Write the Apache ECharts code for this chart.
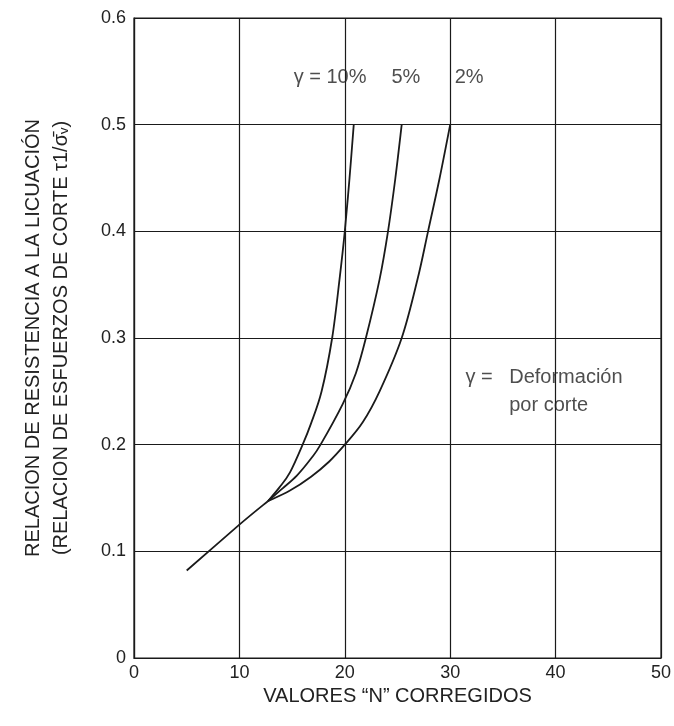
<!DOCTYPE html>
<html>
<head>
<meta charset="utf-8">
<script src="https://cdn.jsdelivr.net/npm/echarts@6/dist/echarts.min.js"></script>
<style>html,body{margin:0;padding:0;background:#fff}#c{width:674px;height:726px}</style>
</head>
<body>
<div id="c"></div>
<script>
var xTicks = [0, 10, 20, 30, 40, 50];
var yTicks = [0, 0.1, 0.2, 0.3, 0.4, 0.5, 0.6];
var baseLine = [[5, 0.082], [10, 0.125], [12.7, 0.147]];
var gamma10 = [[12.7, 0.147], [13.8, 0.16], [14.8, 0.174], [16.0, 0.2], [16.8, 0.22], [17.8, 0.25], [18.8, 0.3], [19.5, 0.355], [20.0, 0.4], [20.45, 0.45], [20.85, 0.5]];
var gamma5 = [[12.7, 0.147], [14.1, 0.159], [15.45, 0.171], [16.8, 0.187], [17.7, 0.2], [19.8, 0.238], [21.05, 0.267], [22, 0.3], [23.3, 0.355], [24.1, 0.4], [24.8, 0.45], [25.4, 0.5]];
var gamma2 = [[12.7, 0.147], [14.8, 0.157], [16.8, 0.17], [18.5, 0.184], [20, 0.2], [21.7, 0.221], [23.3, 0.25], [25.4, 0.3], [26.9, 0.355], [27.9, 0.4], [29.0, 0.45], [30, 0.5]];
var annotations = [
  {text: 'γ = 10%', x: 18.6, y: 0.544, align: 'center'},
  {text: '5%', x: 25.8, y: 0.544, align: 'center'},
  {text: '2%', x: 31.8, y: 0.544, align: 'center'},
  {text: 'γ =', x: 31.45, y: 0.263, align: 'left'},
  {text: 'Deformación\npor corte', x: 35.6, y: 0.250, align: 'left'}
];

var FONT = '"Liberation Sans", Arial, sans-serif';
var ink = '#1a1a1a';
var txt = '#222';
var chart = echarts.init(document.getElementById('c'));

// Smooth curve (Catmull-Rom through the read points), positioned through the axes' scales.
function curveSeries(pts) {
  return {
    type: 'custom', coordinateSystem: 'cartesian2d', data: pts, encode: {x: 0, y: 1},
    silent: true, z: 5,
    renderItem: function (params, api) {
      if (params.dataIndex !== 0) return null;
      var p = pts.map(function (d) { return api.coord(d); });
      var n = p.length;
      var d = 'M' + p[0][0] + ' ' + p[0][1];
      for (var i = 0; i < n - 1; i++) {
        var p0 = p[i - 1] || p[i], p1 = p[i], p2 = p[i + 1], p3 = p[i + 2] || p[i + 1];
        var c1x = p1[0] + (p2[0] - p0[0]) / 6, c1y = p1[1] + (p2[1] - p0[1]) / 6;
        var c2x = p2[0] - (p3[0] - p1[0]) / 6, c2y = p2[1] - (p3[1] - p1[1]) / 6;
        d += ' C' + c1x + ' ' + c1y + ' ' + c2x + ' ' + c2y + ' ' + p2[0] + ' ' + p2[1];
      }
      return {type: 'path', shape: {pathData: d},
        style: {stroke: ink, lineWidth: 1.8, fill: 'none', lineJoin: 'round'}};
    }
  };
}

chart.setOption({
  animation: false,
  grid: {left: 134, right: 9, top: 18, bottom: 68, show: true, borderColor: ink, borderWidth: 1.2},
  xAxis: {
    type: 'value', min: xTicks[0], max: xTicks[xTicks.length - 1], interval: 10,
    name: 'VALORES “N” CORREGIDOS', nameLocation: 'middle', nameGap: 13,
    nameTextStyle: {fontFamily: FONT, fontSize: 20, color: txt},
    axisLine: {show: true, lineStyle: {color: ink, width: 1.2}},
    axisTick: {show: false},
    axisLabel: {fontFamily: FONT, fontSize: 18, color: txt, margin: 6},
    splitLine: {show: true, lineStyle: {color: ink, width: 1.2}}
  },
  yAxis: {
    type: 'value', min: yTicks[0], max: yTicks[yTicks.length - 1], interval: 0.1,
    name: 'RELACION DE RESISTENCIA A LA LICUACIÓN\n(RELACION DE ESFUERZOS DE CORTE τ1/σ̄ᵥ)',
    nameLocation: 'middle', nameGap: 59, nameRotate: 90,
    nameTextStyle: {fontFamily: FONT, fontSize: 20, color: txt, lineHeight: 28},
    axisLine: {show: true, lineStyle: {color: ink, width: 1.2}},
    axisTick: {show: false},
    axisLabel: {fontFamily: FONT, fontSize: 18, color: txt, margin: 8,
      formatter: function (v) { return v === 0 ? '0' : v.toFixed(1); }},
    splitLine: {show: true, lineStyle: {color: ink, width: 1.2}}
  },
  series: [
    curveSeries(baseLine), curveSeries(gamma10), curveSeries(gamma5), curveSeries(gamma2),
    {
      type: 'scatter', symbolSize: 0, z: 6, silent: true,
      data: annotations.map(function (a) {
        return {value: [a.x, a.y], label: {show: true, formatter: a.text, align: a.align,
          position: 'inside', fontFamily: FONT, fontSize: 20, color: txt, lineHeight: 28}};
      })
    }
  ]
});
</script>
</body>
</html>
